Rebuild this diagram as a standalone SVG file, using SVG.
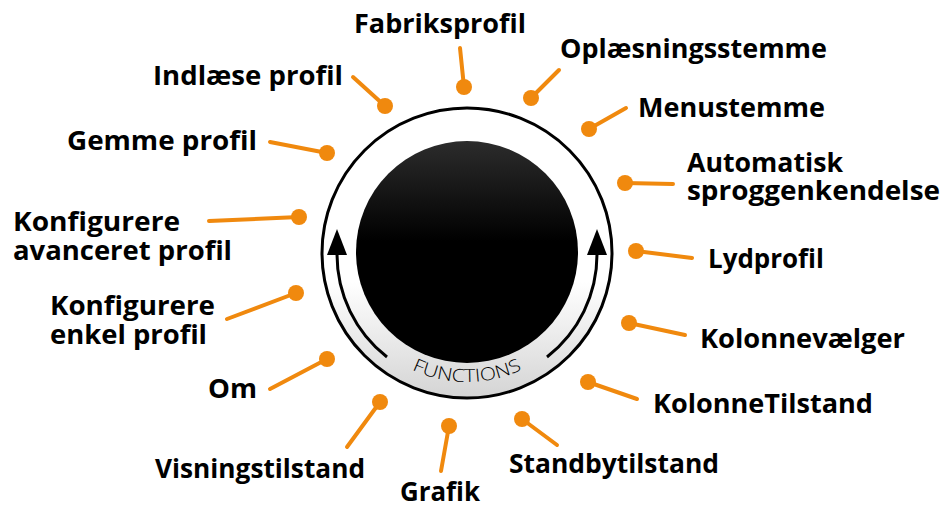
<svg xmlns="http://www.w3.org/2000/svg" width="947" height="508" viewBox="0 0 947 508">
<defs>
<linearGradient id="ringGrad" x1="0" y1="0" x2="0" y2="1">
<stop offset="0" stop-color="#ffffff"/>
<stop offset="0.6" stop-color="#ffffff"/>
<stop offset="1" stop-color="#d4d4d4"/>
</linearGradient>
<linearGradient id="knobGrad" x1="0" y1="0" x2="0" y2="1">
<stop offset="0" stop-color="#2c2c2c"/>
<stop offset="0.45" stop-color="#000000"/>
<stop offset="1" stop-color="#000000"/>
</linearGradient>
<path id="funcPath" d="M 338 253 A 129 129 0 0 0 596 253"/>
</defs>
<style>
.lbl{font-family:"Open Sans","Liberation Sans",sans-serif;font-weight:700;font-size:27px;fill:#000}
.conn line{stroke:#f0890e;stroke-width:4;stroke-linecap:round}
.conn circle{fill:#f0890e}
.arc{fill:none;stroke:#000;stroke-width:3}
.func{font-family:"Open Sans","Liberation Sans",sans-serif;font-weight:300;font-size:18px;fill:#000}
</style>
<rect width="947" height="508" fill="#fff"/>
<g id="knob">
<circle cx="467" cy="253" r="145" fill="url(#ringGrad)" stroke="#000" stroke-width="3"/>
<circle cx="467" cy="252" r="111" fill="url(#knobGrad)"/>
<path class="arc" d="M 387 357 A 130 130 0 0 1 337 254"/>
<polygon points="337,229 327,255 347,255" fill="#000"/>
<path class="arc" d="M 547 357 A 130 130 0 0 0 597 254"/>
<polygon points="597,229 587,255 607,255" fill="#000"/>
<text class="func"><textPath href="#funcPath" startOffset="50%" text-anchor="middle" textLength="114" lengthAdjust="spacingAndGlyphs">FUNCTIONS</textPath></text>
</g>
<g id="connectors" class="conn">
<line x1="464" y1="87" x2="460" y2="48"/><circle cx="464" cy="87" r="8"/>
<line x1="385" y1="106" x2="353" y2="77"/><circle cx="385" cy="106" r="8"/>
<line x1="327" y1="153" x2="270" y2="142"/><circle cx="327" cy="153" r="8"/>
<line x1="531" y1="98" x2="559" y2="70"/><circle cx="531" cy="98" r="8"/>
<line x1="589" y1="129" x2="626" y2="108"/><circle cx="589" cy="129" r="8"/>
<line x1="625" y1="183" x2="673" y2="184"/><circle cx="625" cy="183" r="8"/>
<line x1="636" y1="251" x2="692" y2="258"/><circle cx="636" cy="251" r="8"/>
<line x1="629" y1="323" x2="685" y2="335"/><circle cx="629" cy="323" r="8"/>
<line x1="588" y1="382" x2="637" y2="399"/><circle cx="588" cy="382" r="8"/>
<line x1="522" y1="419" x2="557" y2="445"/><circle cx="522" cy="419" r="8"/>
<line x1="449" y1="426" x2="441" y2="471"/><circle cx="449" cy="426" r="8"/>
<line x1="380" y1="402" x2="347" y2="447"/><circle cx="380" cy="402" r="8"/>
<line x1="327" y1="359" x2="270" y2="389"/><circle cx="327" cy="359" r="8"/>
<line x1="296" y1="293" x2="227" y2="319"/><circle cx="296" cy="293" r="8"/>
<line x1="299" y1="217" x2="209" y2="221"/><circle cx="299" cy="217" r="8"/>
</g>
<g id="n-fabriksprofil"><text class="lbl" x="354" y="33" textLength="172" lengthAdjust="spacingAndGlyphs">Fabriksprofil</text></g>
<g id="n-indlaese"><text class="lbl" x="153" y="85" textLength="190" lengthAdjust="spacingAndGlyphs">Indlæse profil</text></g>
<g id="n-gemme"><text class="lbl" x="67" y="150" textLength="190" lengthAdjust="spacingAndGlyphs">Gemme profil</text></g>
<g id="n-oplaesning"><text class="lbl" x="560" y="58" textLength="267" lengthAdjust="spacingAndGlyphs">Oplæsningsstemme</text></g>
<g id="n-menustemme"><text class="lbl" x="638" y="117" textLength="187" lengthAdjust="spacingAndGlyphs">Menustemme</text></g>
<g id="n-auto"><text class="lbl" x="687" y="172" textLength="156" lengthAdjust="spacingAndGlyphs">Automatisk</text><text class="lbl" x="687" y="200" textLength="253" lengthAdjust="spacingAndGlyphs">sproggenkendelse</text></g>
<g id="n-lydprofil"><text class="lbl" x="708" y="268" textLength="116" lengthAdjust="spacingAndGlyphs">Lydprofil</text></g>
<g id="n-kolonnevaelger"><text class="lbl" x="700" y="348" textLength="205" lengthAdjust="spacingAndGlyphs">Kolonnevælger</text></g>
<g id="n-kolonnetilstand"><text class="lbl" x="653" y="413" textLength="220" lengthAdjust="spacingAndGlyphs">KolonneTilstand</text></g>
<g id="n-standby"><text class="lbl" x="509" y="473" textLength="210" lengthAdjust="spacingAndGlyphs">Standbytilstand</text></g>
<g id="n-grafik"><text class="lbl" x="400" y="501" textLength="80" lengthAdjust="spacingAndGlyphs">Grafik</text></g>
<g id="n-visning"><text class="lbl" x="155" y="478" textLength="210" lengthAdjust="spacingAndGlyphs">Visningstilstand</text></g>
<g id="n-om"><text class="lbl" x="208" y="398" textLength="49" lengthAdjust="spacingAndGlyphs">Om</text></g>
<g id="n-enkel"><text class="lbl" x="50" y="315" textLength="165" lengthAdjust="spacingAndGlyphs">Konfigurere</text><text class="lbl" x="50" y="344" textLength="157" lengthAdjust="spacingAndGlyphs">enkel profil</text></g>
<g id="n-avanceret"><text class="lbl" x="13" y="231" textLength="167" lengthAdjust="spacingAndGlyphs">Konfigurere</text><text class="lbl" x="13" y="260" textLength="219" lengthAdjust="spacingAndGlyphs">avanceret profil</text></g>
</svg>
